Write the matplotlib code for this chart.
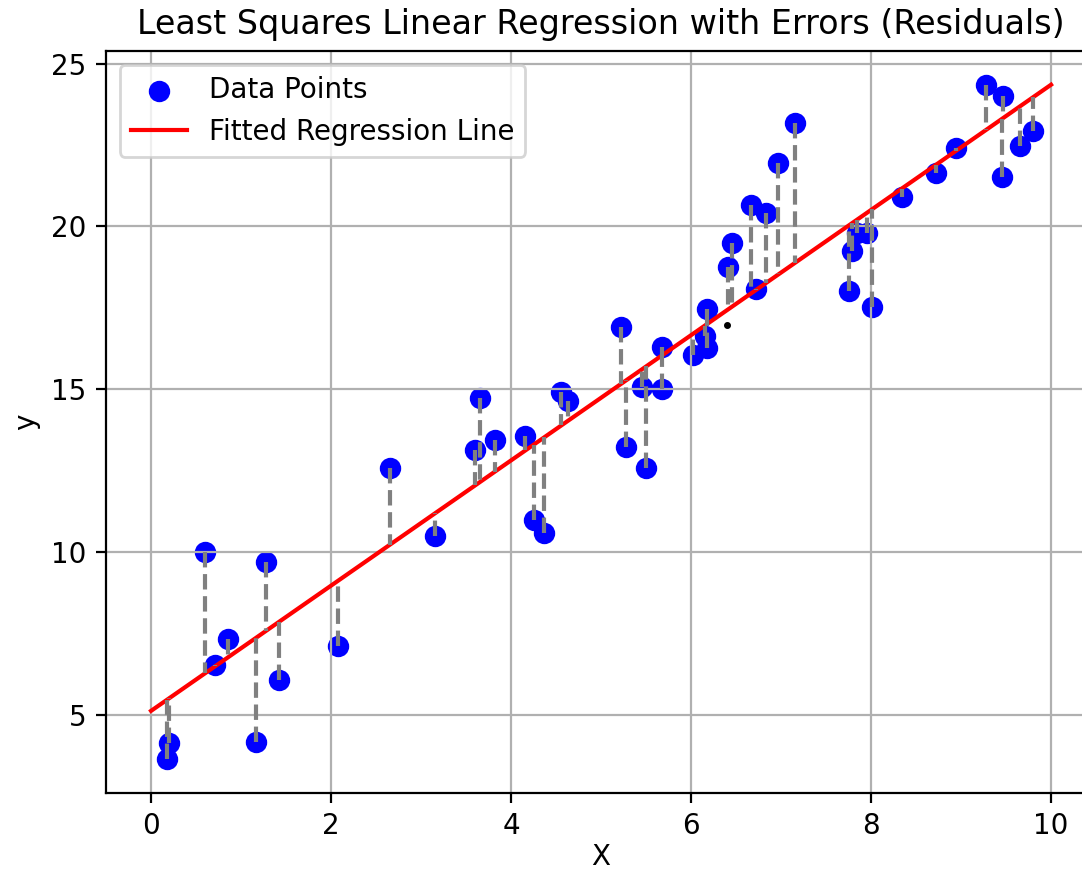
import numpy as np
import matplotlib
matplotlib.use('Agg')
import matplotlib.pyplot as plt

# data
x_vals = [0.18, 0.20, 0.60, 0.71, 0.86, 1.17, 1.28, 1.42, 2.08, 2.65,
          3.16, 3.60, 3.65, 3.82, 4.16, 4.25, 4.37, 4.56, 4.63, 5.22,
          5.28, 5.45, 5.50, 5.68, 5.68, 6.02, 6.15, 6.18, 6.18, 6.41,
          6.46, 6.67, 6.72, 6.83, 6.97, 7.16, 7.75, 7.79, 7.84, 7.95,
          8.01, 8.34, 8.72, 8.94, 9.28, 9.47, 9.45, 9.65, 9.80]
y_vals = [3.65, 4.14, 10.00, 6.54, 7.34, 4.17, 9.71, 6.08, 7.12, 12.60,
          10.51, 13.15, 14.75, 13.46, 13.58, 11.00, 10.58, 14.91, 14.63, 16.91,
          13.22, 15.06, 12.60, 16.29, 15.00, 16.05, 16.63, 16.26, 17.46, 18.75,
          19.49, 20.66, 18.08, 20.42, 21.95, 23.18, 18.02, 19.25, 19.80, 19.80,
          17.52, 20.91, 21.65, 22.42, 24.35, 24.00, 21.52, 22.48, 22.94]
stray_x = [6.40]
stray_y = [16.97]

x = np.array(x_vals)
y = np.array(y_vals)

# least squares fit
slope, intercept = np.polyfit(x, y, 1)
y_pred = slope * x + intercept
x_line = np.array([0, 10])
y_line = slope * x_line + intercept

fig = plt.figure(figsize=(1082 / 200, 874 / 200), dpi=200)
ax = fig.add_axes([0.098, 0.0927, 0.915, 0.849])

ax.scatter(x, y, color='blue', s=45, label='Data Points')
ax.plot(x_line, y_line, color='red', label='Fitted Regression Line')

# residuals
for i in range(len(x)):
    ax.plot([x[i], x[i]], [y[i], y_pred[i]], color='gray', linestyle='--')

ax.plot(stray_x, stray_y, 'k.', markersize=3)

ax.set_xlim(-0.5, 10.5)
ax.set_xlabel('X', labelpad=1)
ax.set_ylabel('y')
ax.set_title('Least Squares Linear Regression with Errors (Residuals)')
ax.legend(loc='upper left')
ax.grid(True)

fig.savefig('out.png', dpi=200)
